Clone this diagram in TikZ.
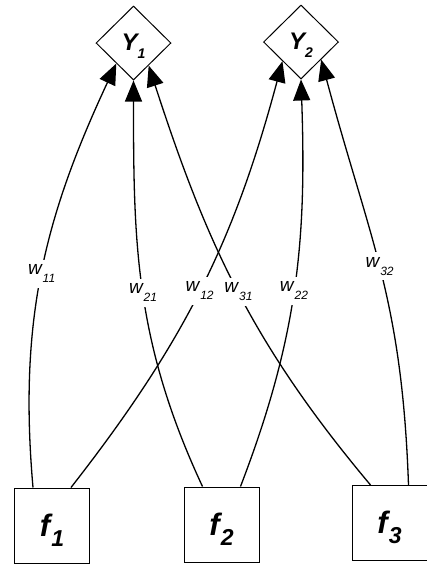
\documentclass[tikz,border=0pt]{standalone}
\usepackage{fontspec}
\setmainfont{Liberation Sans}
\usepackage{tikz}
\usetikzlibrary{shapes.geometric,arrows.meta,calc}
\newcommand{\wlab}[1]{{\fontsize{19}{19}\selectfont\itshape w\kern1pt\raisebox{-8pt}{\fontsize{12}{12}\selectfont #1}}}
\newcommand{\ylab}[1]{{\fontsize{24}{24}\selectfont\bfseries\itshape Y\raisebox{-8pt}{\fontsize{14}{14}\selectfont #1}}}
\newcommand{\flab}[1]{{\fontsize{31}{31}\selectfont\bfseries\itshape f\kern1pt\raisebox{-10pt}{\fontsize{23}{23}\selectfont #1}}}

\begin{document}
\begin{tikzpicture}[x=1pt,y=1pt,
    inbox/.style={draw=black,line width=1pt,minimum width=75pt,minimum height=75pt,inner sep=0pt,text height=31pt},
    outbox/.style={diamond,aspect=1,draw=black,line width=1pt,minimum width=75pt,minimum height=74pt,inner sep=0pt,text height=22pt},
    wire/.style={line width=1.3pt,-{Triangle[length=21pt,width=17pt]}},
    wlabel/.style={fill=white,inner sep=5pt}]
  \useasboundingbox (0,0) rectangle (427,-566);
  % outputs
  \node[outbox] (Y1) at (133.5,-43) {\ylab{1}};
  \node[outbox] (Y2) at (301,-42) {\ylab{2}};
  % inputs
  \node[inbox] (f1) at (52,-525.5) {\flab{1}};
  \node[inbox] (f2) at (221.5,-524.5) {\flab{2}};
  \node[inbox] (f3) at (389.5,-523) {\flab{3}};
  % weights
  \draw[wire] ([xshift=-19pt]f1.north) to[out=95,in=-115] node[wlabel,pos=0.49] {\wlab{11}} (Y1.-130);
  \draw[wire] ([xshift=-19pt]f2.north) to[out=115,in=-90] node[wlabel,pos=0.49] {\wlab{21}} (Y1.south);
  \draw[wire] ([xshift=-19pt]f3.north) to[out=130,in=-72] node[wlabel,pos=0.49] {\wlab{31}} (Y1.-56);
  \draw[wire] ([xshift=19pt]f1.north) to[out=52,in=-105] node[wlabel,pos=0.49] {\wlab{12}} (Y2.-134);
  \draw[wire] ([xshift=19pt]f2.north) to[out=69,in=-88] node[wlabel,pos=0.49] {\wlab{22}} (Y2.south);
  \draw[wire] ([xshift=19pt]f3.north) to[out=92,in=-75,looseness=1.1] node[wlabel,pos=0.51] {\wlab{32}} (Y2.-41);
\end{tikzpicture}
\end{document}
